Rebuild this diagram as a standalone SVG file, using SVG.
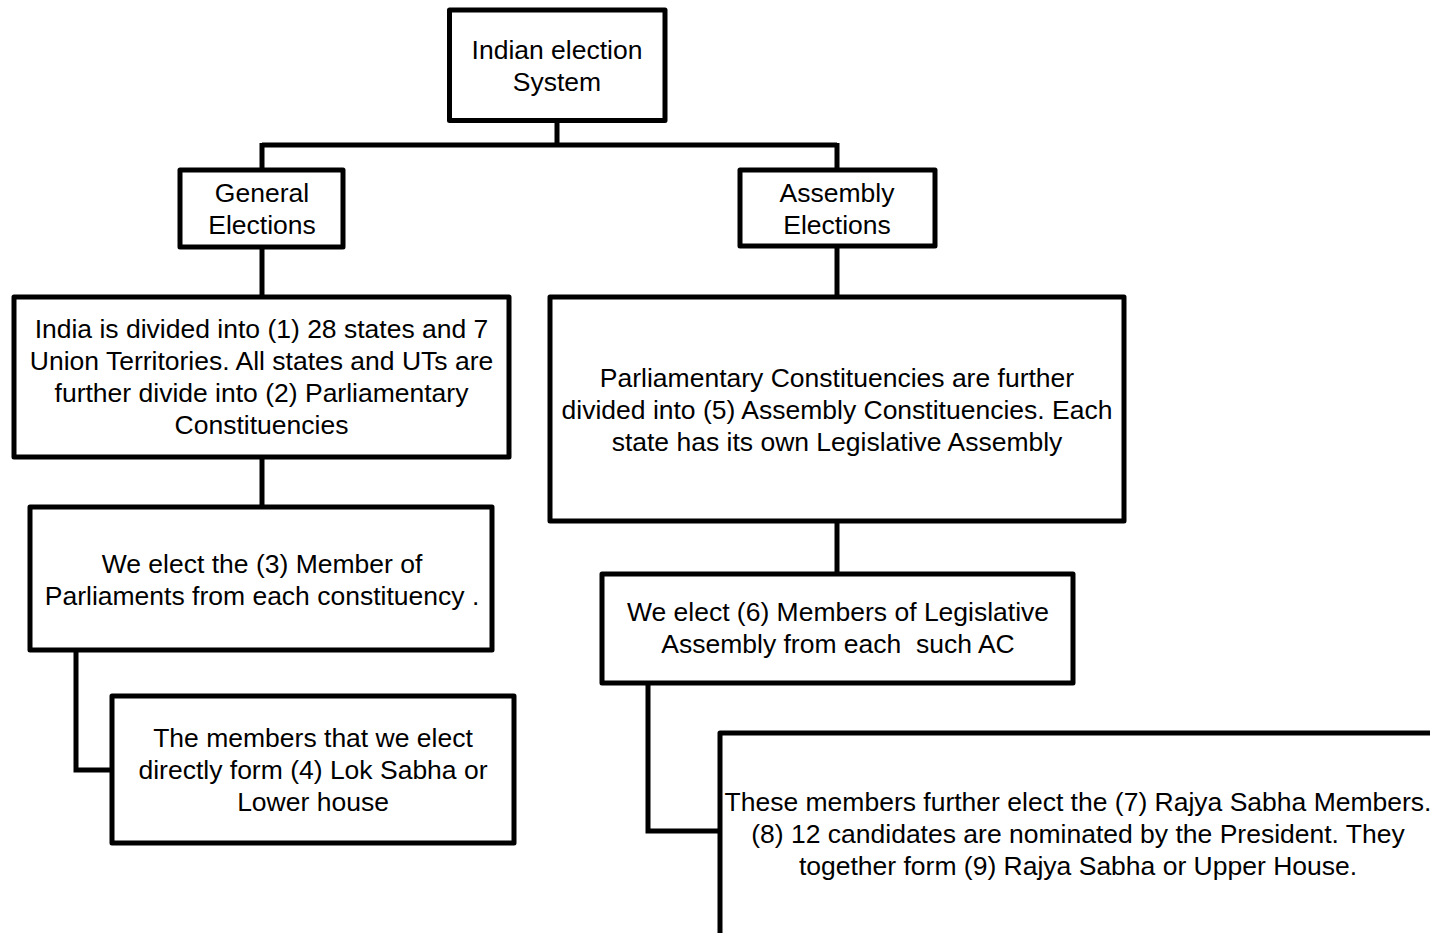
<svg xmlns="http://www.w3.org/2000/svg" width="1430" height="933" viewBox="0 0 1430 933">
<style>
.box{fill:#fff;stroke:#000;stroke-width:5;stroke-linejoin:round}
.t{font-family:"Liberation Sans",Arial,sans-serif;font-size:26.5px;fill:#000;text-anchor:middle;white-space:pre}
.c{fill:none;stroke:#000;stroke-width:5;stroke-linejoin:miter}
</style>
<rect width="1430" height="933" fill="#fff"/>
<g id="connectors">
<path class="c" d="M557 121V145M262 145H837M262 143V170M837 143V170"/>
<path class="c" d="M262 247V297"/>
<path class="c" d="M837 247V297"/>
<path class="c" d="M262 458V507"/>
<path class="c" d="M837 522V574"/>
<path class="c" d="M76 651V770H112"/>
<path class="c" d="M648 684V831H720"/>
</g>
<g id="n-root"><rect class="box" x="449.5" y="10" width="215.5" height="110.5"/>
<text class="t" x="557" y="59">Indian election</text><text class="t" x="557" y="91">System</text></g>
<g id="n-general"><rect class="box" x="180" y="170" width="163" height="77"/>
<text class="t" x="262" y="202">General</text><text class="t" x="262" y="234">Elections</text></g>
<g id="n-assembly"><rect class="box" x="740" y="170" width="195" height="76"/>
<text class="t" x="837" y="202">Assembly</text><text class="t" x="837" y="234">Elections</text></g>
<g id="n-india"><rect class="box" x="14" y="297" width="495" height="160"/>
<text class="t" x="261.5" y="338">India is divided into (1) 28 states and 7</text>
<text class="t" x="261.5" y="370">Union Territories. All states and UTs are</text>
<text class="t" x="261.5" y="402">further divide into (2) Parliamentary</text>
<text class="t" x="261.5" y="434">Constituencies</text></g>
<g id="n-mp"><rect class="box" x="30" y="507" width="462" height="143"/>
<text class="t" x="262" y="573">We elect the (3) Member of</text>
<text class="t" x="262" y="605">Parliaments from each constituency .</text></g>
<g id="n-lok"><rect class="box" x="112" y="696" width="402" height="147"/>
<text class="t" x="313" y="747">The members that we elect</text>
<text class="t" x="313" y="779">directly form (4) Lok Sabha or</text>
<text class="t" x="313" y="811">Lower house</text></g>
<g id="n-ac"><rect class="box" x="550" y="297" width="574" height="224"/>
<text class="t" x="837" y="387">Parliamentary Constituencies are further</text>
<text class="t" x="837" y="419">divided into (5) Assembly Constituencies. Each</text>
<text class="t" x="837" y="451">state has its own Legislative Assembly</text></g>
<g id="n-mla"><rect class="box" x="602" y="574" width="471" height="109"/>
<text class="t" x="838" y="621">We elect (6) Members of Legislative</text>
<text class="t" x="838" y="653">Assembly from each  such AC</text></g>
<g id="n-rajya"><rect class="box" x="720" y="733" width="720" height="220"/>
<text class="t" x="1078" y="811">These members further elect the (7) Rajya Sabha Members.</text>
<text class="t" x="1078" y="843">(8) 12 candidates are nominated by the President. They</text>
<text class="t" x="1078" y="875">together form (9) Rajya Sabha or Upper House.</text></g>
</svg>
